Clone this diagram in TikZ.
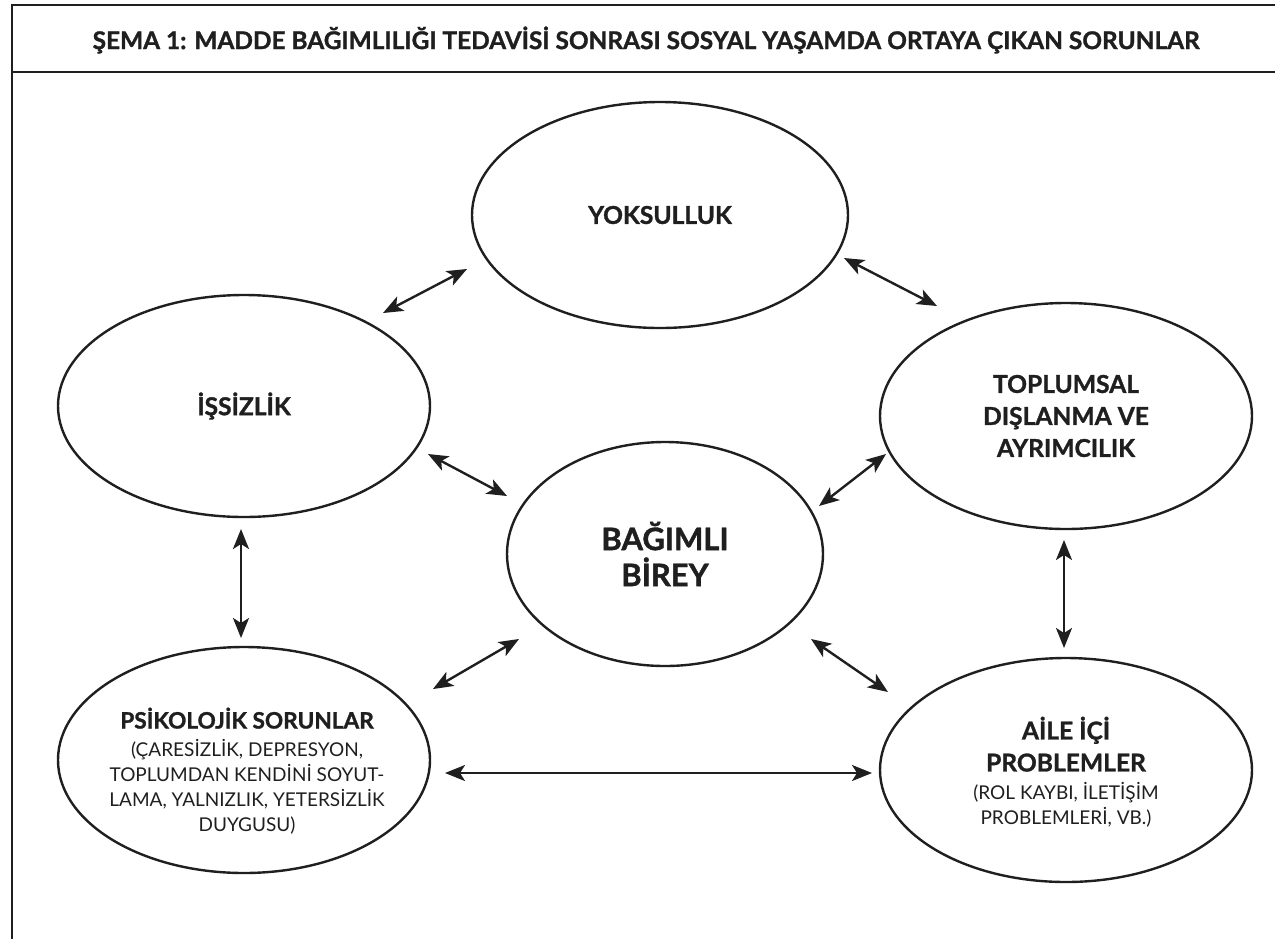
\documentclass[tikz,border=0pt]{standalone}
\usepackage{fontspec}
\setmainfont{Lato}[BoldFeatures={FakeBold=1.2}]
\usetikzlibrary{arrows.meta,shapes.geometric}
\begin{document}
\begin{tikzpicture}[x=0.5pt,y=-0.5pt,
  frame/.style={line width=1.4pt, draw=black!88},
  bubble/.style={draw=black!88, ellipse, line width=1.2pt, inner sep=0pt, align=center, text=black!88},
  head/.style={font=\fontsize{12.3}{16}\selectfont\bfseries},
  bighead/.style={font=\fontsize{15.5}{18}\selectfont\bfseries},
  conn/.style={{Stealth[length=10pt,width=8pt,inset=2.5pt]}-{Stealth[length=10pt,width=8pt,inset=2.5pt]}, line width=1.2pt, draw=black!88},
  titletext/.style={font=\fontsize{12.2}{14}\selectfont\bfseries, text=black!88},
  bodytext/.style={align=center, inner sep=0pt, text=black!88}
]
\useasboundingbox (0,0) rectangle (1275,939);
% frame
\coordinate (tl) at (12,5);
\coordinate (tr) at (1275,5);
\coordinate (hl) at (12,72);
\coordinate (hr) at (1275,72);
\coordinate (bl) at (12,939);
\draw[frame] (tr) -- (tl) -- (bl);
\draw[frame] (hl) -- (hr);
\node[titletext] (title) at (646,40) {ŞEMA 1: MADDE BAĞIMLILIĞI TEDAVİSİ SONRASI SOSYAL YAŞAMDA ORTAYA ÇIKAN SORUNLAR};

% ellipses
\node[bubble, head, minimum width=188pt, minimum height=113pt] (yok) at (660,215) {YOKSULLUK};
\node[bubble, head, minimum width=186pt, minimum height=111pt] (iss) at (244,406) {İŞSİZLİK};
\node[bubble, head, minimum width=186pt, minimum height=113pt] (top) at (1066,416) {TOPLUMSAL\\DIŞLANMA VE\\AYRIMCILIK};
\node[bubble, bighead, minimum width=158pt, minimum height=112pt] (bag) at (665,554) {BAĞIMLI\\BİREY};
\node[bubble, minimum width=186pt, minimum height=113pt] (psi) at (244,760) {};
\node[bubble, minimum width=186pt, minimum height=112pt] (aile) at (1066,770) {};
\node[bodytext, font=\fontsize{9.5}{12.5}\selectfont] (psitext) at (247,771)
  {{\fontsize{11.3}{14}\selectfont\bfseries PSİKOLOJİK SORUNLAR}\\[1.5pt]
   (ÇARESİZLİK, DEPRESYON,\\TOPLUMDAN KENDİNİ SOYUT-\\LAMA, YALNIZLIK, YETERSİZLİK\\DUYGUSU)};
\node[bodytext, font=\fontsize{9.5}{12.5}\selectfont] (ailetext) at (1066,772)
  {{\fontsize{12.3}{16}\selectfont\bfseries AİLE İÇİ}\\[3.5pt]
   {\fontsize{12.3}{16}\selectfont\bfseries PROBLEMLER}\\[1.5pt]
   (ROL KAYBI, İLETİŞİM\\PROBLEMLERİ, VB.)};

% connectors
\coordinate (c1a) at (383,313); \coordinate (c1b) at (467,269);
\coordinate (c2a) at (844,258); \coordinate (c2b) at (937,306);
\coordinate (c3a) at (428,454); \coordinate (c3b) at (507,496);
\coordinate (c4a) at (819,506); \coordinate (c4b) at (886,454);
\coordinate (c5a) at (241,529); \coordinate (c5b) at (241,638);
\coordinate (c6a) at (1064,540); \coordinate (c6b) at (1064,648);
\coordinate (c7a) at (433,689); \coordinate (c7b) at (519,639);
\coordinate (c8a) at (811,639); \coordinate (c8b) at (888,692);
\coordinate (c9a) at (445,773); \coordinate (c9b) at (872,773);
\draw[conn] (c1a) -- (c1b);
\draw[conn] (c2a) -- (c2b);
\draw[conn] (c3a) -- (c3b);
\draw[conn] (c4a) -- (c4b);
\draw[conn] (c5a) -- (c5b);
\draw[conn] (c6a) -- (c6b);
\draw[conn] (c7a) -- (c7b);
\draw[conn] (c8a) -- (c8b);
\draw[conn] (c9a) -- (c9b);
\end{tikzpicture}
\end{document}
